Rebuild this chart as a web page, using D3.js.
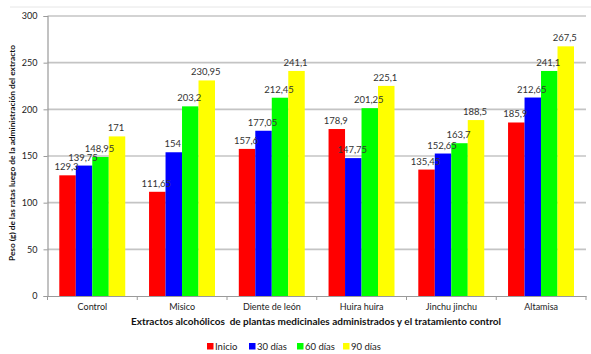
<!DOCTYPE html>
<html>
<head>
<meta charset="utf-8">
<script src="https://cdn.jsdelivr.net/npm/d3@7"></script>
<style>
  html, body { margin: 0; padding: 0; background: #fff; }
  svg { display: block; font-family: Lato, "Open Sans", sans-serif; }
</style>
</head>
<body>
<svg id="chart" width="591" height="354"></svg>
<script>
// Plant extracts (and control) on the x axis
const categories = ["Control", "Misico", "Diente de león", "Huira huira", "Jinchu jinchu", "Altamisa"];
// One series per measurement time
const seriesNames = ["Inicio", "30 días", "60 días", "90 días"];
const inicio  = [129.3, 111.65, 157.6, 178.9, 135.45, 185.9];
const dias30  = [139.75, 154, 177.05, 147.75, 152.65, 212.65];
const dias60  = [148.95, 203.2, 212.45, 201.25, 163.7, 241.1];
const dias90  = [171, 230.95, 241.1, 225.1, 188.5, 267.5];
const yTicks  = [0, 50, 100, 150, 200, 250, 300];
const colors  = ["#ff0000", "#0000ff", "#00ff00", "#ffff00"];

const seriesValues = [inicio, dias30, dias60, dias90];
const fmt = v => String(v).replace(".", ",");

const svg = d3.select("#chart");
const plotLeft = 47.5, plotRight = 586, plotTop = 16, plotBottom = 296;

// faint outer frame line at the top
svg.append("line").attr("x1", 10).attr("x2", 591).attr("y1", 7).attr("y2", 7)
  .attr("stroke", "#e6e6e6").attr("stroke-width", 1);

const x0 = d3.scaleBand().domain(categories).range([plotLeft, plotRight]).padding(0);
const x1 = d3.scaleBand().domain(seriesNames)
  .range([11.8, x0.bandwidth() - 12]).padding(0);
const y = d3.scaleLinear().domain([0, 300]).range([plotBottom, plotTop]);

// horizontal gridlines
svg.append("g").selectAll("line").data(yTicks.filter(t => t > 0)).join("line")
  .attr("x1", plotLeft).attr("x2", plotRight)
  .attr("y1", d => y(d)).attr("y2", d => y(d))
  .attr("stroke", "#c4c4c4").attr("stroke-width", 1.6);

// y axis
const yAxis = svg.append("g").attr("transform", `translate(${plotLeft},0)`)
  .call(d3.axisLeft(y).tickValues(yTicks).tickSize(4).tickPadding(6));
yAxis.select(".domain").attr("stroke", "#9a9a9a").attr("stroke-width", 1.2);
yAxis.selectAll(".tick line").attr("stroke", "#9a9a9a");
yAxis.selectAll("text").attr("font-size", 9).attr("fill", "#222")
  .attr("font-family", "Lato, sans-serif");

// bars
const groups = svg.append("g").selectAll("g").data(categories).join("g")
  .attr("transform", d => `translate(${x0(d)},0)`);
groups.selectAll("rect")
  .data((c, i) => seriesNames.map((s, j) => ({ s, j, v: seriesValues[j][i] })))
  .join("rect")
  .attr("x", d => x1(d.s)).attr("width", x1.bandwidth())
  .attr("y", d => y(d.v)).attr("height", d => plotBottom - y(d.v))
  .attr("fill", d => colors[d.j]);

// value labels
groups.selectAll("text")
  .data((c, i) => seriesNames.map((s, j) => ({ s, j, v: seriesValues[j][i] })))
  .join("text")
  .attr("x", d => x1(d.s) + x1.bandwidth() / 2 - 1)
  .attr("y", d => y(d.v) - 5)
  .attr("text-anchor", "middle")
  .attr("font-size", 9.5).attr("fill", "#333")
  .text(d => fmt(d.v));

// x axis
const xAxis = svg.append("g").attr("transform", `translate(0,${plotBottom})`)
  .call(d3.axisBottom(x0).tickSize(0).tickPadding(8));
xAxis.select(".domain").attr("stroke", "#9a9a9a").attr("stroke-width", 1.2);
xAxis.selectAll("text").attr("font-size", 9).attr("fill", "#222")
  .attr("font-family", "Lato, sans-serif");
// category separators
svg.append("g").selectAll("line")
  .data(categories.map(c => x0(c)).concat([plotRight])).join("line")
  .attr("x1", d => d).attr("x2", d => d)
  .attr("y1", plotBottom).attr("y2", plotBottom + 4)
  .attr("stroke", "#9a9a9a");

// axis titles
svg.append("text")
  .attr("x", 316).attr("y", 325)
  .attr("text-anchor", "middle")
  .attr("font-size", 10).attr("font-weight", "bold").attr("fill", "#111")
  .attr("xml:space", "preserve")
  .text("Extractos alcohólicos  de plantas medicinales administrados y el tratamiento control");

svg.append("text")
  .attr("transform", "translate(15,153) rotate(-90)")
  .attr("text-anchor", "middle")
  .attr("font-size", 8.3).attr("font-weight", "bold").attr("fill", "#111")
  .text("Peso (g) de las ratas luego de la administración del extracto");

// legend
const legendX = [207, 249, 297, 343];
const legend = svg.append("g").selectAll("g").data(seriesNames).join("g")
  .attr("transform", (d, i) => `translate(${legendX[i]},343)`);
legend.append("rect").attr("width", 6.5).attr("height", 6.5)
  .attr("fill", (d, i) => colors[i]);
legend.append("text").attr("x", 8).attr("y", 6.8)
  .attr("font-size", 9.5).attr("fill", "#222").text(d => d);
</script>
</body>
</html>
